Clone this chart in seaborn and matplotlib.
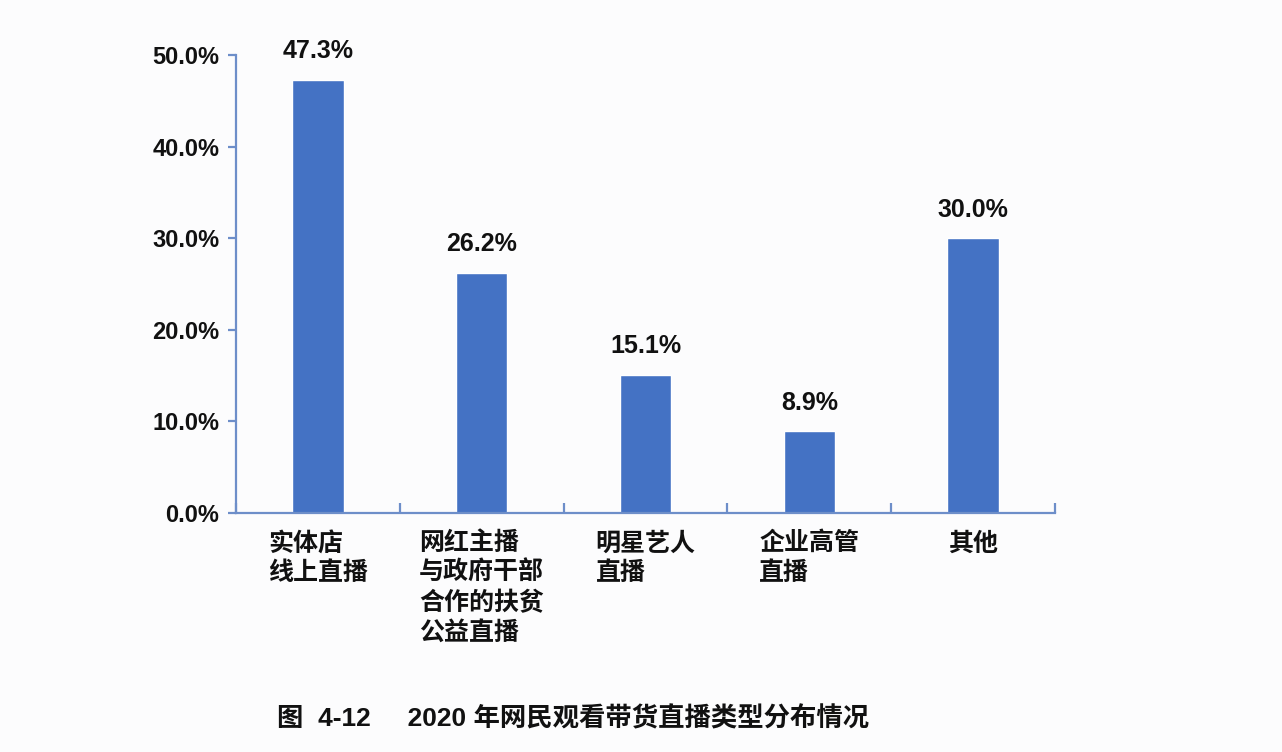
import matplotlib
matplotlib.use("Agg")
import matplotlib.pyplot as plt
import seaborn as sns
import pandas as pd

categories = ["实体店\n线上直播", "网红主播\n与政府干部\n合作的扶贫\n公益直播", "明星艺人\n直播", "企业高管\n直播", "其他"]
values = [47.3, 26.2, 15.1, 8.9, 30.0]
yticks = [0, 10, 20, 30, 40, 50]
caption = "图  4-12     2020 年网民观看带货直播类型分布情况"

sns.set_theme(style="white")
plt.rcParams['font.family'] = ['Liberation Sans', 'Noto Sans CJK SC', 'DejaVu Sans']

bg = '#fcfcfd'
bar_color = '#4472c4'
spine_color = '#6d8ec9'

df = pd.DataFrame({"cat": categories, "val": values})

fig = plt.figure(figsize=(12.82, 7.52), dpi=100, facecolor=bg)
ax = fig.add_axes([236/1282, 1-513/752, (1055-236)/1282, (513-55)/752])
ax.set_facecolor(bg)

sns.barplot(data=df, x="cat", y="val", color=bar_color, width=0.315, saturation=1, ax=ax)

ax.set_xlim(-0.5, 4.5)
ax.set_ylim(0, 50)
ax.set_xlabel("")
ax.set_ylabel("")

for s in ["top", "right"]:
    ax.spines[s].set_visible(False)
for s in ["left", "bottom"]:
    ax.spines[s].set_color(spine_color)
    ax.spines[s].set_linewidth(1.6)

ax.set_yticks(yticks)
ax.set_yticklabels([f"{v:.1f}%" for v in yticks], fontsize=17, fontweight='bold', color='#111111')
ax.tick_params(axis='y', direction='out', length=6, width=1.6, color=spine_color, pad=6, left=True)

# category boundary ticks
ax.set_xticks([-0.5, 0.5, 1.5, 2.5, 3.5, 4.5], minor=False)
ax.set_xticklabels([])
ax.tick_params(axis='x', direction='in', length=7, width=1.6, color=spine_color, bottom=True)

for i, (c, v) in enumerate(zip(categories, values)):
    ax.text(i, -2.0, c, ha='center', va='top', multialignment='left',
            fontsize=18, fontweight='bold', color='#111111',
            family=['Noto Sans CJK SC', 'DejaVu Sans'], linespacing=1.3)
    ax.annotate(f"{v:.1f}%", xy=(i, v), xytext=(0, 12), textcoords='offset points',
                ha='center', va='bottom', fontsize=18, fontweight='bold', color='#111111')

fig.text(277/1282, 1-719/752, caption, ha='left', va='center', fontsize=19,
         fontweight='bold', color='#111111',
         family=['Liberation Sans', 'Noto Sans CJK SC', 'DejaVu Sans'])

fig.savefig("out.png", dpi=100, facecolor=bg)
